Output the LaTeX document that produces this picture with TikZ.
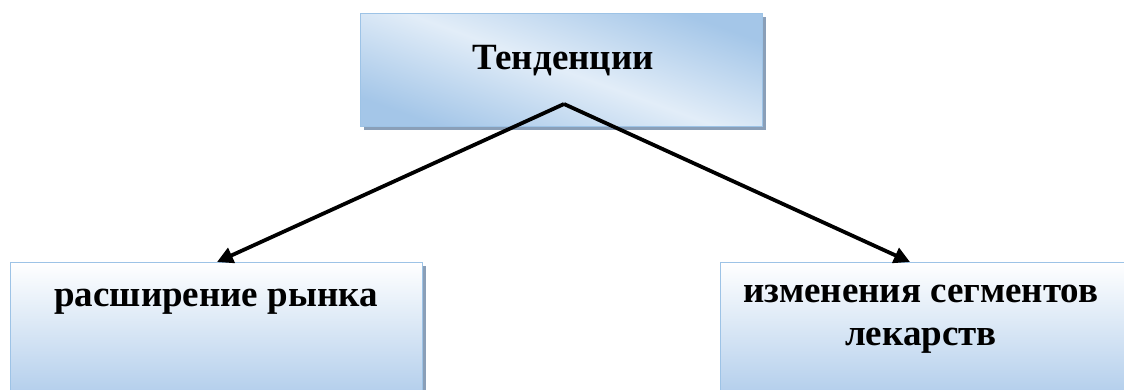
\documentclass[tikz,border=0pt]{standalone}
\usepackage{fontspec}
\setmainfont{Liberation Serif}
\usetikzlibrary{arrows.meta,shadows}
\definecolor{boxline}{HTML}{9DC3E6}
\definecolor{boxdark}{HTML}{A4C6E8}
\definecolor{boxlight}{HTML}{E2EDF8}
\definecolor{botdark}{HTML}{B4CFEC}
\definecolor{shadowc}{HTML}{8A9FB8}
\tikzset{
  topbox/.style={draw=boxline, line width=1pt, minimum width=402pt, minimum height=113pt,
    left color=boxdark, right color=boxdark, middle color=boxlight, shading angle=-20,
    drop shadow={shadow xshift=3.5pt, shadow yshift=-3.5pt, fill=shadowc, opacity=1}},
  botbox/.style={draw=boxline, line width=1pt, minimum width=412pt, minimum height=130pt,
    top color=white, bottom color=botdark, anchor=north,
    drop shadow={shadow xshift=3.5pt, shadow yshift=-3.5pt, fill=shadowc, opacity=1}},
  lbl/.style={font=\bfseries\fontsize{37}{43}\selectfont, align=center},
  conn/.style={line width=3.8pt, -{Triangle[length=16pt,width=16pt]}}
}
\begin{document}
\begin{tikzpicture}[x=1pt,y=-1pt]
\clip (0,0) rectangle (1124,389);
\useasboundingbox (0,0) rectangle (1124,389);
\node[topbox] (top) at (561,69.5) {};
\node[lbl] (toptxt) at (563,61) {Тенденции};
\node[botbox] (left) at (216,262) {};
\node[lbl] (lefttxt) at (216,302) {расширение рынка};
\node[botbox] (right) at (926,262) {};
\node[lbl] (righttxt) at (921,319) {изменения сегментов\\лекарств};
\coordinate (apex) at (564,104);
\coordinate (lend) at (217,262);
\coordinate (rend) at (910,262);
\draw[conn] (apex) -- (lend);
\draw[conn] (apex) -- (rend);
\end{tikzpicture}
\end{document}
